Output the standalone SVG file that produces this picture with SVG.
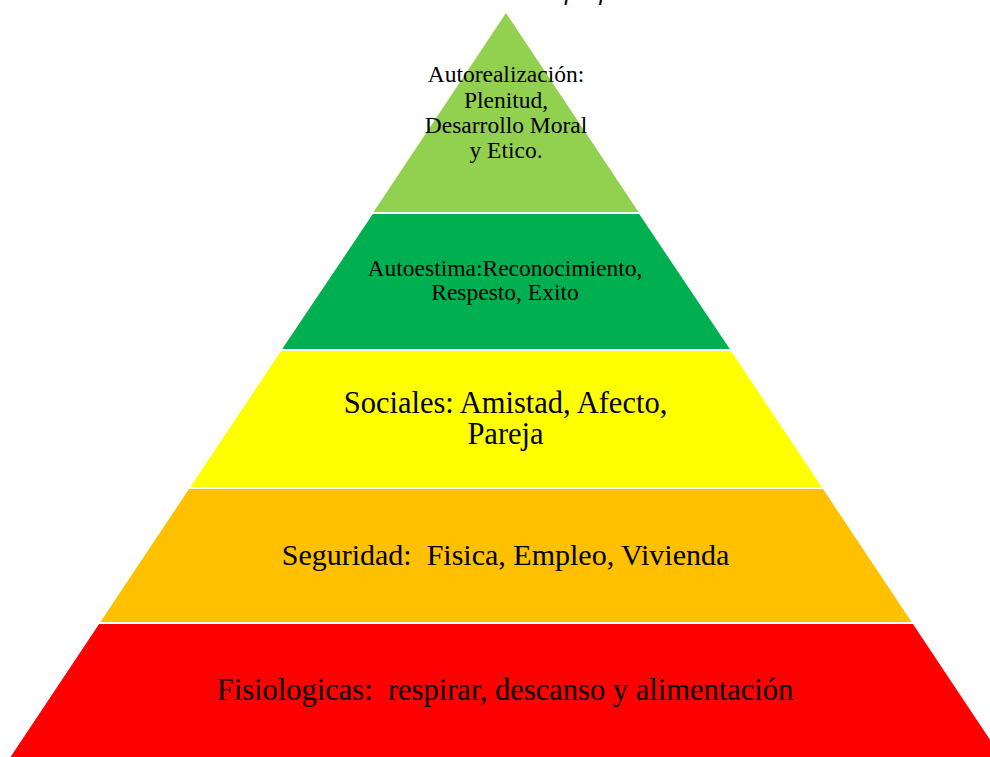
<svg xmlns="http://www.w3.org/2000/svg" width="990" height="757" viewBox="0 0 990 757">
<style>
.t{font-family:"Liberation Serif","Times New Roman",serif;fill:#000;text-anchor:middle}
.cap{font-family:"Liberation Sans",Arial,sans-serif;font-style:italic;fill:#000}
</style>
<rect x="0" y="0" width="990" height="757" fill="#fff"/>
<text class="cap" x="118" y="0" font-size="24">Pirámide de Maslow. Fuente: elaboración propia</text>
<g id="autorealizacion">
<polygon points="506,13 638.5,212 373.5,212" fill="#92D050"/>
<text class="t" font-size="23.5"><tspan x="506" y="82">Autorealización:</tspan><tspan x="506" y="107.5">Plenitud,</tspan><tspan x="506" y="133">Desarrollo Moral</tspan><tspan x="506" y="158">y Etico.</tspan></text>
</g>
<g id="autoestima">
<polygon points="372.8,214 639.2,214 729.8,349 282.2,349" fill="#00B050"/>
<text class="t" font-size="23.5"><tspan x="505" y="276">Autoestima:Reconocimiento,</tspan><tspan x="505" y="300">Respesto, Exito</tspan></text>
</g>
<g id="sociales">
<polygon points="280.9,351 731.1,351 821.7,487 190.3,487" fill="#FFFF00"/>
<text class="t" font-size="30.5"><tspan x="505.5" y="413">Sociales: Amistad, Afecto,</tspan><tspan x="505.5" y="444">Pareja</tspan></text>
</g>
<g id="seguridad">
<polygon points="189,489 823,489 911.6,622 100.4,622" fill="#FFC000"/>
<text class="t" font-size="30" x="505.5" y="565" xml:space="preserve">Seguridad:  Fisica, Empleo, Vivienda</text>
</g>
<g id="fisiologicas">
<polygon points="99.1,624 912.9,624 1001.5,757 10.5,757" fill="#FF0000"/>
<text class="t" font-size="30.5" x="505" y="700" xml:space="preserve">Fisiologicas:  respirar, descanso y alimentación</text>
</g>
<g id="connectors"></g>
</svg>
